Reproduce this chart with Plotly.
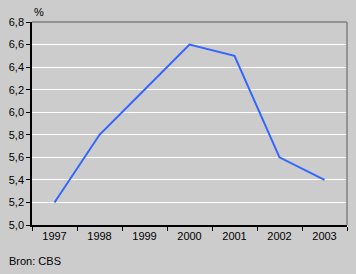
import plotly.graph_objects as go

years = ["1997", "1998", "1999", "2000", "2001", "2002", "2003"]
values = [5.2, 5.8, 6.2, 6.6, 6.5, 5.6, 5.4]
y_ticks = [5.0, 5.2, 5.4, 5.6, 5.8, 6.0, 6.2, 6.4, 6.6, 6.8]

bg = "#cccccc"
fig = go.Figure()
fig.add_trace(go.Scatter(x=years, y=values, mode="lines",
                         line=dict(color="#3366ff", width=2), hoverinfo="skip"))

fig.update_layout(
    width=356, height=274,
    margin=dict(l=30, r=9, t=22, b=49),
    paper_bgcolor=bg, plot_bgcolor=bg,
    separators=", ",
    showlegend=False,
    font=dict(family="Liberation Sans, Arial, sans-serif", size=11, color="#000000"),
    xaxis=dict(type="category", range=[-0.5, 6.5], tickson="boundaries",
               showgrid=False, showline=True, linecolor="#000000", linewidth=1.5,
               ticks="outside", ticklen=4, tickcolor="#000000", tickwidth=1,
               zeroline=False, fixedrange=True),
    yaxis=dict(range=[5.0, 6.8], tickvals=y_ticks, tickformat=".1f",
               showgrid=True, gridcolor="#ffffff", gridwidth=1,
               showline=True, linecolor="#000000", linewidth=1.5,
               ticks="outside", ticklen=4, tickcolor="#000000", tickwidth=1,
               zeroline=False, fixedrange=True),
    shapes=[
        dict(type="line", xref="paper", yref="paper", x0=0, x1=1, y0=1, y1=1,
             line=dict(color="#808080", width=1.5)),
        dict(type="line", xref="paper", yref="paper", x0=1, x1=1, y0=0, y1=1,
             line=dict(color="#808080", width=1.5)),
    ],
    annotations=[
        dict(text="%", xref="paper", yref="paper", x=0.0, y=1.0, xanchor="left",
             yanchor="bottom", yshift=2, showarrow=False, font=dict(size=11)),
        dict(text="Bron: CBS", xref="paper", yref="paper", x=0, y=0,
             xanchor="left", yanchor="top", xshift=-25, yshift=-28,
             showarrow=False, font=dict(size=11)),
    ],
)
fig.write_html("out.html")
